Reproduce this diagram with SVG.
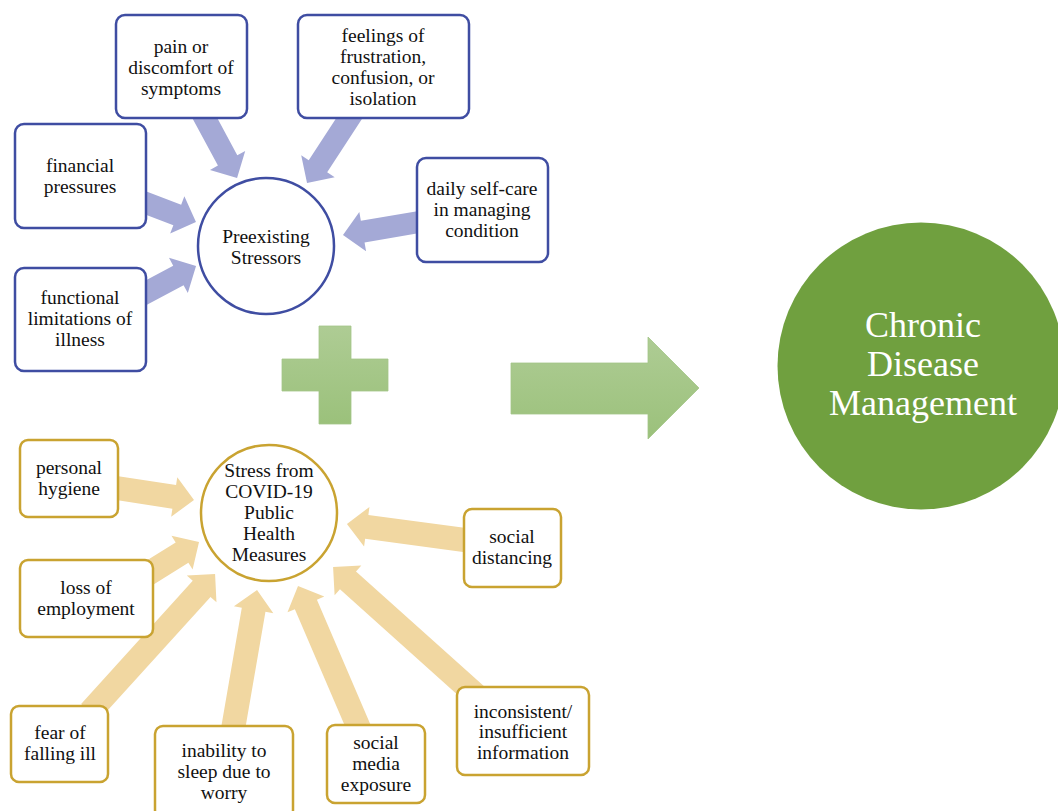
<svg xmlns="http://www.w3.org/2000/svg" width="1058" height="811" viewBox="0 0 1058 811">
<defs>
<linearGradient id="gg" x1="0" y1="0" x2="0" y2="1">
<stop offset="0" stop-color="#AECC94"/>
<stop offset="1" stop-color="#9BC17B"/>
</linearGradient>
</defs>
<style>
.bbox{fill:#fff;stroke:#3F4DA2;stroke-width:2.5}
.gbox{fill:#fff;stroke:#C9A331;stroke-width:2.5}
.barr{fill:#A4A9D6}
.tarr{fill:#F1D7A1}
text{font-family:"Liberation Serif","Times New Roman",serif;font-size:19.5px;fill:#111;text-anchor:middle}
.big{font-size:36px;fill:#fff}
</style>
<rect width="1058" height="811" fill="#fff"/>
<g id="connectors">
<path class="barr" transform="translate(201,111) rotate(61.7)" d="M0,-11 H56.1 V-20 L76.1,0 L56.1,20 V11 H0 Z"/>
<path class="barr" transform="translate(354,111) rotate(123.1)" d="M0,-11 H66 V-20 L86,0 L66,20 V11 H0 Z"/>
<path class="barr" transform="translate(138,200) rotate(20.8)" d="M0,-11 H42 V-20 L62,0 L42,20 V11 H0 Z"/>
<path class="barr" transform="translate(138,297) rotate(-28.1)" d="M0,-11 H45.8 V-20 L65.8,0 L45.8,20 V11 H0 Z"/>
<path class="barr" transform="translate(425,221) rotate(170.3)" d="M0,-11 H63.2 V-20 L83.2,0 L63.2,20 V11 H0 Z"/>
<path class="tarr" transform="translate(110,487) rotate(8.8)" d="M0,-12 H65 V-20 L85,0 L65,20 V12 H0 Z"/>
<path class="tarr" transform="translate(130,585) rotate(-31.9)" d="M0,-12 H61.3 V-20 L81.3,0 L61.3,20 V12 H0 Z"/>
<path class="tarr" transform="translate(90,712) rotate(-47.8)" d="M0,-12 H166.2 V-20 L186.2,0 L166.2,20 V12 H0 Z"/>
<path class="tarr" transform="translate(232,735) rotate(-80.2)" d="M0,-12 H127.1 V-20 L147.1,0 L127.1,20 V12 H0 Z"/>
<path class="tarr" transform="translate(361,733) rotate(-113.2)" d="M0,-12 H139.9 V-20 L159.9,0 L139.9,20 V12 H0 Z"/>
<path class="tarr" transform="translate(478,697) rotate(-138.1)" d="M0,-12 H174.7 V-20 L194.7,0 L174.7,20 V12 H0 Z"/>
<path class="tarr" transform="translate(472,541) rotate(-172.3)" d="M0,-12 H106.2 V-20 L126.2,0 L106.2,20 V12 H0 Z"/>
</g>
<g id="pain"><rect class="bbox" x="116" y="15" width="131" height="103" rx="9"/>
<text x="181" y="53">pain or</text><text x="181" y="74">discomfort of</text><text x="181" y="95">symptoms</text></g>
<g id="feelings"><rect class="bbox" x="298" y="15" width="171" height="103" rx="9"/>
<text x="383" y="42">feelings of</text><text x="383" y="63">frustration,</text><text x="383" y="84">confusion, or</text><text x="383" y="105">isolation</text></g>
<g id="financial"><rect class="bbox" x="15" y="124" width="131" height="104" rx="9"/>
<text x="80" y="172">financial</text><text x="80" y="193">pressures</text></g>
<g id="daily"><rect class="bbox" x="417" y="158" width="131" height="104" rx="9"/>
<text x="482" y="195">daily self-care</text><text x="482" y="216">in managing</text><text x="482" y="237">condition</text></g>
<g id="functional"><rect class="bbox" x="15" y="268" width="131" height="103" rx="9"/>
<text x="80" y="304">functional</text><text x="80" y="325">limitations of</text><text x="80" y="346">illness</text></g>
<g id="preexisting"><circle cx="266" cy="246" r="68" fill="#fff" stroke="#3F4DA2" stroke-width="2.5"/>
<text x="266" y="243">Preexisting</text><text x="266" y="264">Stressors</text></g>
<g id="plus"><path fill="url(#gg)" stroke="#A3C588" stroke-width="0.8" d="M319,326 H351 V359 H388 V391 H351 V424 H319 V391 H282 V359 H319 Z"/></g>
<g id="bigarrow"><path fill="url(#gg)" stroke="#A3C588" stroke-width="0.8" d="M511,363 H648 V337 L699,388 L648,439 V414 H511 Z"/></g>
<g id="chronic"><circle cx="921" cy="366" r="143.5" fill="#70A03F"/>
<text class="big" x="923" y="337">Chronic</text><text class="big" x="923" y="376">Disease</text><text class="big" x="923" y="415">Management</text></g>
<g id="hygiene"><rect class="gbox" x="20" y="440" width="98" height="77" rx="8"/>
<text x="69" y="474">personal</text><text x="69" y="495">hygiene</text></g>
<g id="employment"><rect class="gbox" x="20" y="560" width="133" height="77" rx="8"/>
<text x="86" y="594">loss of</text><text x="86" y="615">employment</text></g>
<g id="fear"><rect class="gbox" x="11" y="706" width="97" height="76" rx="8"/>
<text x="60" y="739">fear of</text><text x="60" y="760">falling ill</text></g>
<g id="inability"><rect class="gbox" x="155" y="726" width="138" height="92" rx="8"/>
<text x="224" y="757">inability to</text><text x="224" y="778">sleep due to</text><text x="224" y="799">worry</text></g>
<g id="socialmedia"><rect class="gbox" x="327" y="725" width="98" height="78" rx="8"/>
<text x="376" y="749">social</text><text x="376" y="770">media</text><text x="376" y="791">exposure</text></g>
<g id="inconsistent"><rect class="gbox" x="457" y="687" width="132" height="88" rx="8"/>
<text x="523" y="718">inconsistent/</text><text x="523" y="738">insufficient</text><text x="523" y="759">information</text></g>
<g id="distancing"><rect class="gbox" x="464" y="509" width="97" height="78" rx="8"/>
<text x="512" y="543">social</text><text x="512" y="564">distancing</text></g>
<g id="covid"><circle cx="269" cy="513" r="68" fill="#fff" stroke="#C9A331" stroke-width="2.5"/>
<text x="269" y="477">Stress from</text><text x="269" y="498">COVID-19</text><text x="269" y="519">Public</text><text x="269" y="540">Health</text><text x="269" y="561">Measures</text></g>
</svg>
